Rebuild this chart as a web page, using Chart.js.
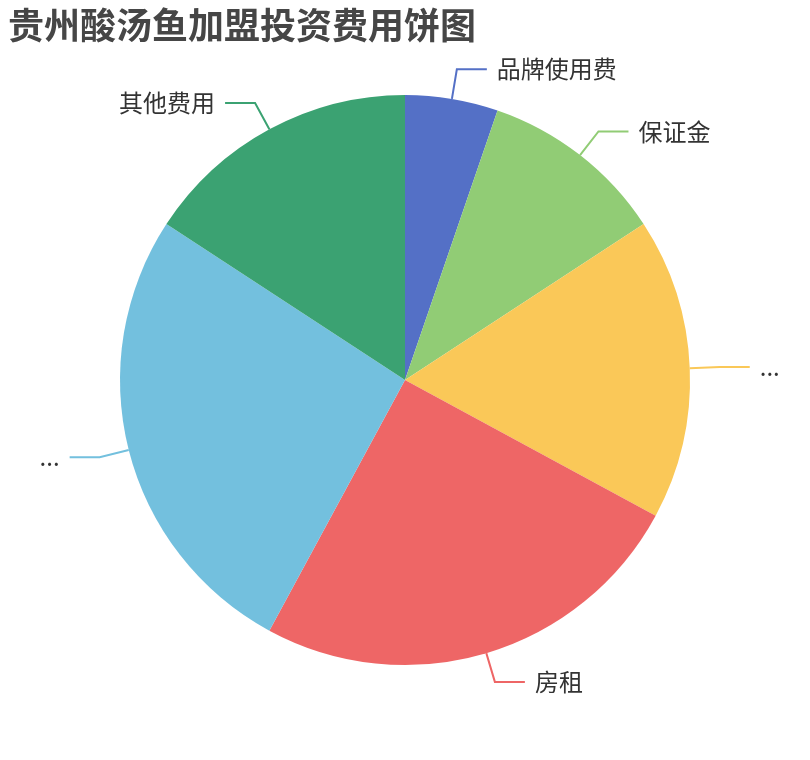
<!DOCTYPE html>
<html>
<head>
<meta charset="utf-8">
<script src="https://cdn.jsdelivr.net/npm/chart.js@4"></script>
<style>
  html, body { margin: 0; padding: 0; background: #ffffff; }
  #wrap { width: 810px; height: 760px; position: relative; }
</style>
</head>
<body>
<div id="wrap"><canvas id="c" width="810" height="760"></canvas></div>
<script>
const chartTitle = '贵州酸汤鱼加盟投资费用饼图';
const categories = ['品牌使用费', '保证金', '...', '房租', '...', '其他费用'];
const values = [2, 4, 6.5, 9.5, 10, 6];
const colors = ['#5470c6', '#91cc75', '#fac858', '#ee6666', '#73c0de', '#3ba272'];

const titlePlugin = {
  id: 'echTitle',
  afterDraw(chart) {
    const ctx = chart.ctx;
    ctx.save();
    ctx.font = 'bold 36px "Noto Sans CJK SC", sans-serif';
    ctx.fillStyle = '#464646';
    ctx.textAlign = 'left';
    ctx.textBaseline = 'middle';
    ctx.fillText(chartTitle, 8, 25);
    ctx.restore();
  }
};

const labelPlugin = {
  id: 'pieLabels',
  afterDatasetsDraw(chart) {
    const ctx = chart.ctx;
    const meta = chart.getDatasetMeta(0);
    ctx.save();
    meta.data.forEach((arc, i) => {
      const p = arc.getProps(['x', 'y', 'startAngle', 'endAngle', 'outerRadius'], true);
      const mid = (p.startAngle + p.endAngle) / 2;
      const c = Math.cos(mid), s = Math.sin(mid);
      const x1 = p.x + p.outerRadius * c, y1 = p.y + p.outerRadius * s;
      const x2 = p.x + (p.outerRadius + 30) * c, y2 = p.y + (p.outerRadius + 30) * s;
      const dir = c >= 0 ? 1 : -1;
      const x3 = x2 + dir * 30;
      ctx.beginPath();
      ctx.moveTo(x1, y1);
      ctx.lineTo(x2, y2);
      ctx.lineTo(x3, y2);
      ctx.strokeStyle = colors[i];
      ctx.lineWidth = 2;
      ctx.stroke();
      ctx.font = '24px "Noto Sans CJK SC", sans-serif';
      ctx.fillStyle = '#333333';
      ctx.textBaseline = 'middle';
      ctx.textAlign = dir > 0 ? 'left' : 'right';
      ctx.fillText(chart.data.labels[i], x3 + dir * 10, y2);
    });
    ctx.restore();
  }
};

new Chart(document.getElementById('c'), {
  type: 'pie',
  data: {
    labels: categories,
    datasets: [{
      data: values,
      backgroundColor: colors,
      borderWidth: 0,
      hoverOffset: 0
    }]
  },
  options: {
    responsive: false,
    animation: false,
    events: [],
    layout: { padding: { top: 95, bottom: 95, left: 0, right: 0 } },
    plugins: {
      legend: { display: false },
      title: { display: false },
      tooltip: { enabled: false }
    }
  },
  plugins: [titlePlugin, labelPlugin]
});
</script>
</body>
</html>
